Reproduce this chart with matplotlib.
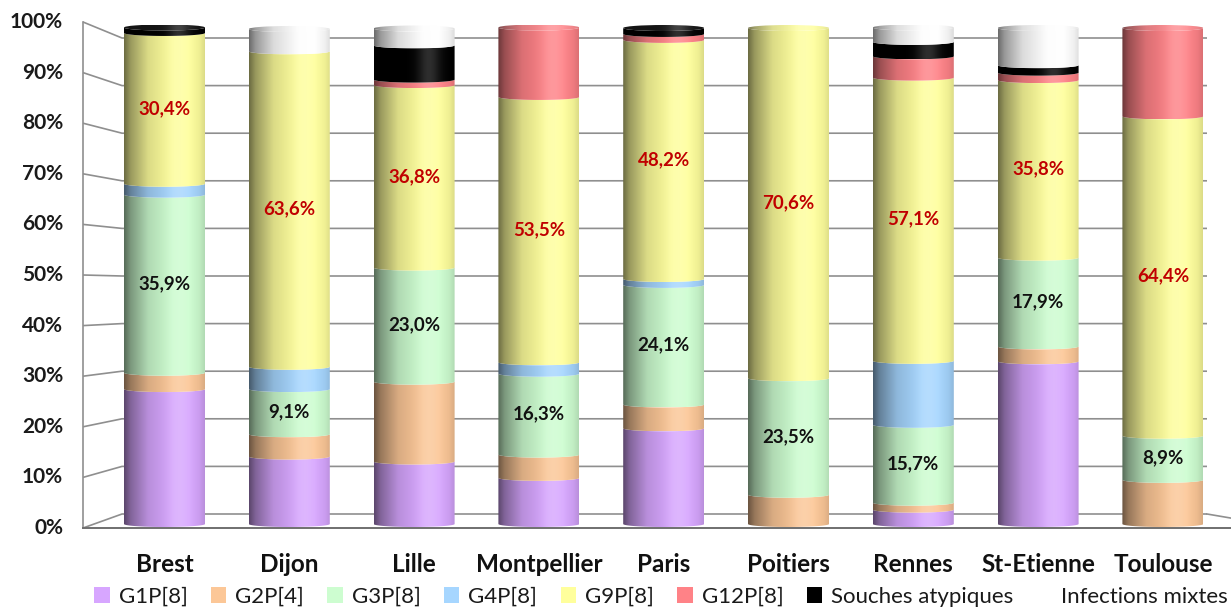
import numpy as np
import matplotlib.pyplot as plt
from matplotlib.patches import Patch, PathPatch, Ellipse
from matplotlib.path import Path
from matplotlib.colors import to_rgb

plt.rcParams['font.family'] = ['Lato', 'DejaVu Sans']

villes = ['Brest', 'Dijon', 'Lille', 'Montpellier', 'Paris', 'Poitiers',
          'Rennes', 'St-Etienne', 'Toulouse']
genotypes = ['G1P[8]', 'G2P[4]', 'G3P[8]', 'G4P[8]', 'G9P[8]', 'G12P[8]',
             'Souches atypiques', 'Infections mixtes']

# % par ville
g1p8 = [27.2, 13.6, 12.6, 9.3, 19.3, 0, 2.9, 32.8, 0]
g2p4 = [3.3, 4.5, 16.1, 4.7, 4.8, 5.9, 1.4, 3.0, 8.9]
g3p8 = [35.9, 9.1, 23.0, 16.3, 24.1, 23.5, 15.7, 17.9, 8.9]
g4p8 = [2.2, 4.5, 0, 2.3, 1.2, 0, 12.9, 0, 0]
g9p8 = [30.4, 63.6, 36.8, 53.5, 48.2, 70.6, 57.1, 35.8, 64.4]
g12p8 = [0, 0, 1.1, 14.0, 1.2, 0, 4.3, 1.5, 17.8]
atypiques = [1.1, 0, 6.9, 0, 1.2, 0, 2.9, 1.5, 0]
mixtes = [0, 4.5, 3.4, 0, 0, 0, 2.9, 7.5, 0]

series = [g1p8, g2p4, g3p8, g4p8, g9p8, g12p8, atypiques, mixtes]
couleurs = ['#D7A6FF', '#FCC797', '#CDFDD0', '#A6D6FF', '#FFFF9C', '#FF8287',
            '#000000', '#FFFFFF']
# labels only on G3P and G9P
label_color = {2: '#111111', 4: '#C00000'}

fig = plt.figure(figsize=(12.31, 6.10), dpi=100)
ax = fig.add_axes([0, 70 / 610, 1, 540 / 610])
ax.axis('off')

# pixel layout: bar base at row 524, 4.96 px per %, bar pitch 124.8 px
def px_x(px):
    return (px - 164.5) / 124.8

def wall_y(q):   # back wall: 0% at row 514, 4.76 px / %
    return (524 - (514 - 4.76 * q)) / 4.96

def front_y(q):  # front edge of the side wall: 0% at row 528, 5.06 px / %
    return (524 - (528 - 5.06 * q)) / 4.96

grid_c = '#8f8f8f'
for q in range(0, 101, 10):
    ax.plot([px_x(83), px_x(122), px_x(1207)], [front_y(q), wall_y(q), wall_y(q)],
            color=grid_c, lw=1.2, zorder=1, solid_capstyle='butt')
    ax.text(px_x(63), front_y(q), f'{q}%', ha='right', va='center',
            fontsize=15, fontweight='bold', color='#1a1a1a')
ax.plot([px_x(83), px_x(83)], [front_y(0), front_y(100)], color=grid_c, lw=1.2, zorder=1)
ax.plot([px_x(83), px_x(1260)], [front_y(0), front_y(0)], color='#6f6f6f', lw=1.4, zorder=1)
ax.plot([px_x(1207), px_x(1260)], [wall_y(0), front_y(0) + 1.0], color=grid_c, lw=1.2, zorder=1)

hw = 40.5 / 124.8   # half bar width
e = 3.0 / 4.96      # depth of the ellipse arcs


def gradient(rgb, n=256, light=0.0):
    t = np.linspace(0, 1, n)
    f = np.interp(t, [0, 0.08, 0.3, 0.6, 0.8, 0.93, 1],
                  [0.42, 0.6, 0.86, 0.99, 1.0, 0.94, 0.86])
    rgb = np.array(rgb)
    col = rgb[None, :] * f[:, None]
    h = 0.18 * np.exp(-((t - 0.68) / 0.14) ** 2) + light
    col = col + (1 - col) * h[:, None]
    return np.clip(col, 0, 1)[None, :, :]


def segment(xc, y0, y1, rgb, z):
    th = np.linspace(np.pi, 0, 60)
    xs = xc + hw * np.cos(th)
    top = np.column_stack([xs, y1 - e * np.sin(th)])
    bot = np.column_stack([xs[::-1], y0 - e * np.sin(th[::-1])])
    verts = np.vstack([top, bot, top[:1]])
    patch = PathPatch(Path(verts, closed=True), facecolor='none', edgecolor='none')
    ax.add_patch(patch)
    im = ax.imshow(gradient(rgb), extent=[xc - hw, xc + hw, y0 - e, y1],
                   aspect='auto', interpolation='bilinear', zorder=z)
    im.set_clip_path(patch)


for i, ville in enumerate(villes):
    bottom = 0
    last = None
    for s, vals in enumerate(series):
        v = vals[i]
        if v <= 0:
            continue
        segment(i, bottom, bottom + v, to_rgb(couleurs[s]), 3)
        if s in label_color:
            txt = f'{v:.1f}%'.replace('.', ',')
            ax.text(i, bottom + v / 2, txt, ha='center', va='center', fontsize=13.5,
                    fontweight='bold', color=label_color[s], zorder=6)
        bottom += v
        last = s
    # top cap
    cap = Ellipse((i, bottom), 2 * hw, 2 * e, facecolor='none', edgecolor='none')
    ax.add_patch(cap)
    im = ax.imshow(gradient(to_rgb(couleurs[last]), light=0.08),
                   extent=[i - hw, i + hw, bottom - e, bottom + e],
                   aspect='auto', interpolation='bilinear', zorder=4)
    im.set_clip_path(cap)
    ax.text(i, (524 - 565) / 4.96, ville, ha='center', va='center', fontsize=17.5,
            fontweight='bold', color='#111111', clip_on=False)

ax.set_xlim(px_x(0), px_x(1231))
ax.set_ylim((524 - 540) / 4.96, 524 / 4.96)

handles = [Patch(facecolor=c, edgecolor='none', label=g) for g, c in zip(genotypes, couleurs)]
fig.legend(handles=handles, loc='center', bbox_to_anchor=(0.537, 1 - 597 / 610),
           ncol=8, frameon=False, fontsize=16, handlelength=0.7, handleheight=0.7,
           handletextpad=0.4, columnspacing=1.05, borderpad=0.2, labelcolor='#1a1a1a')

fig.savefig('out.png', dpi=100)
